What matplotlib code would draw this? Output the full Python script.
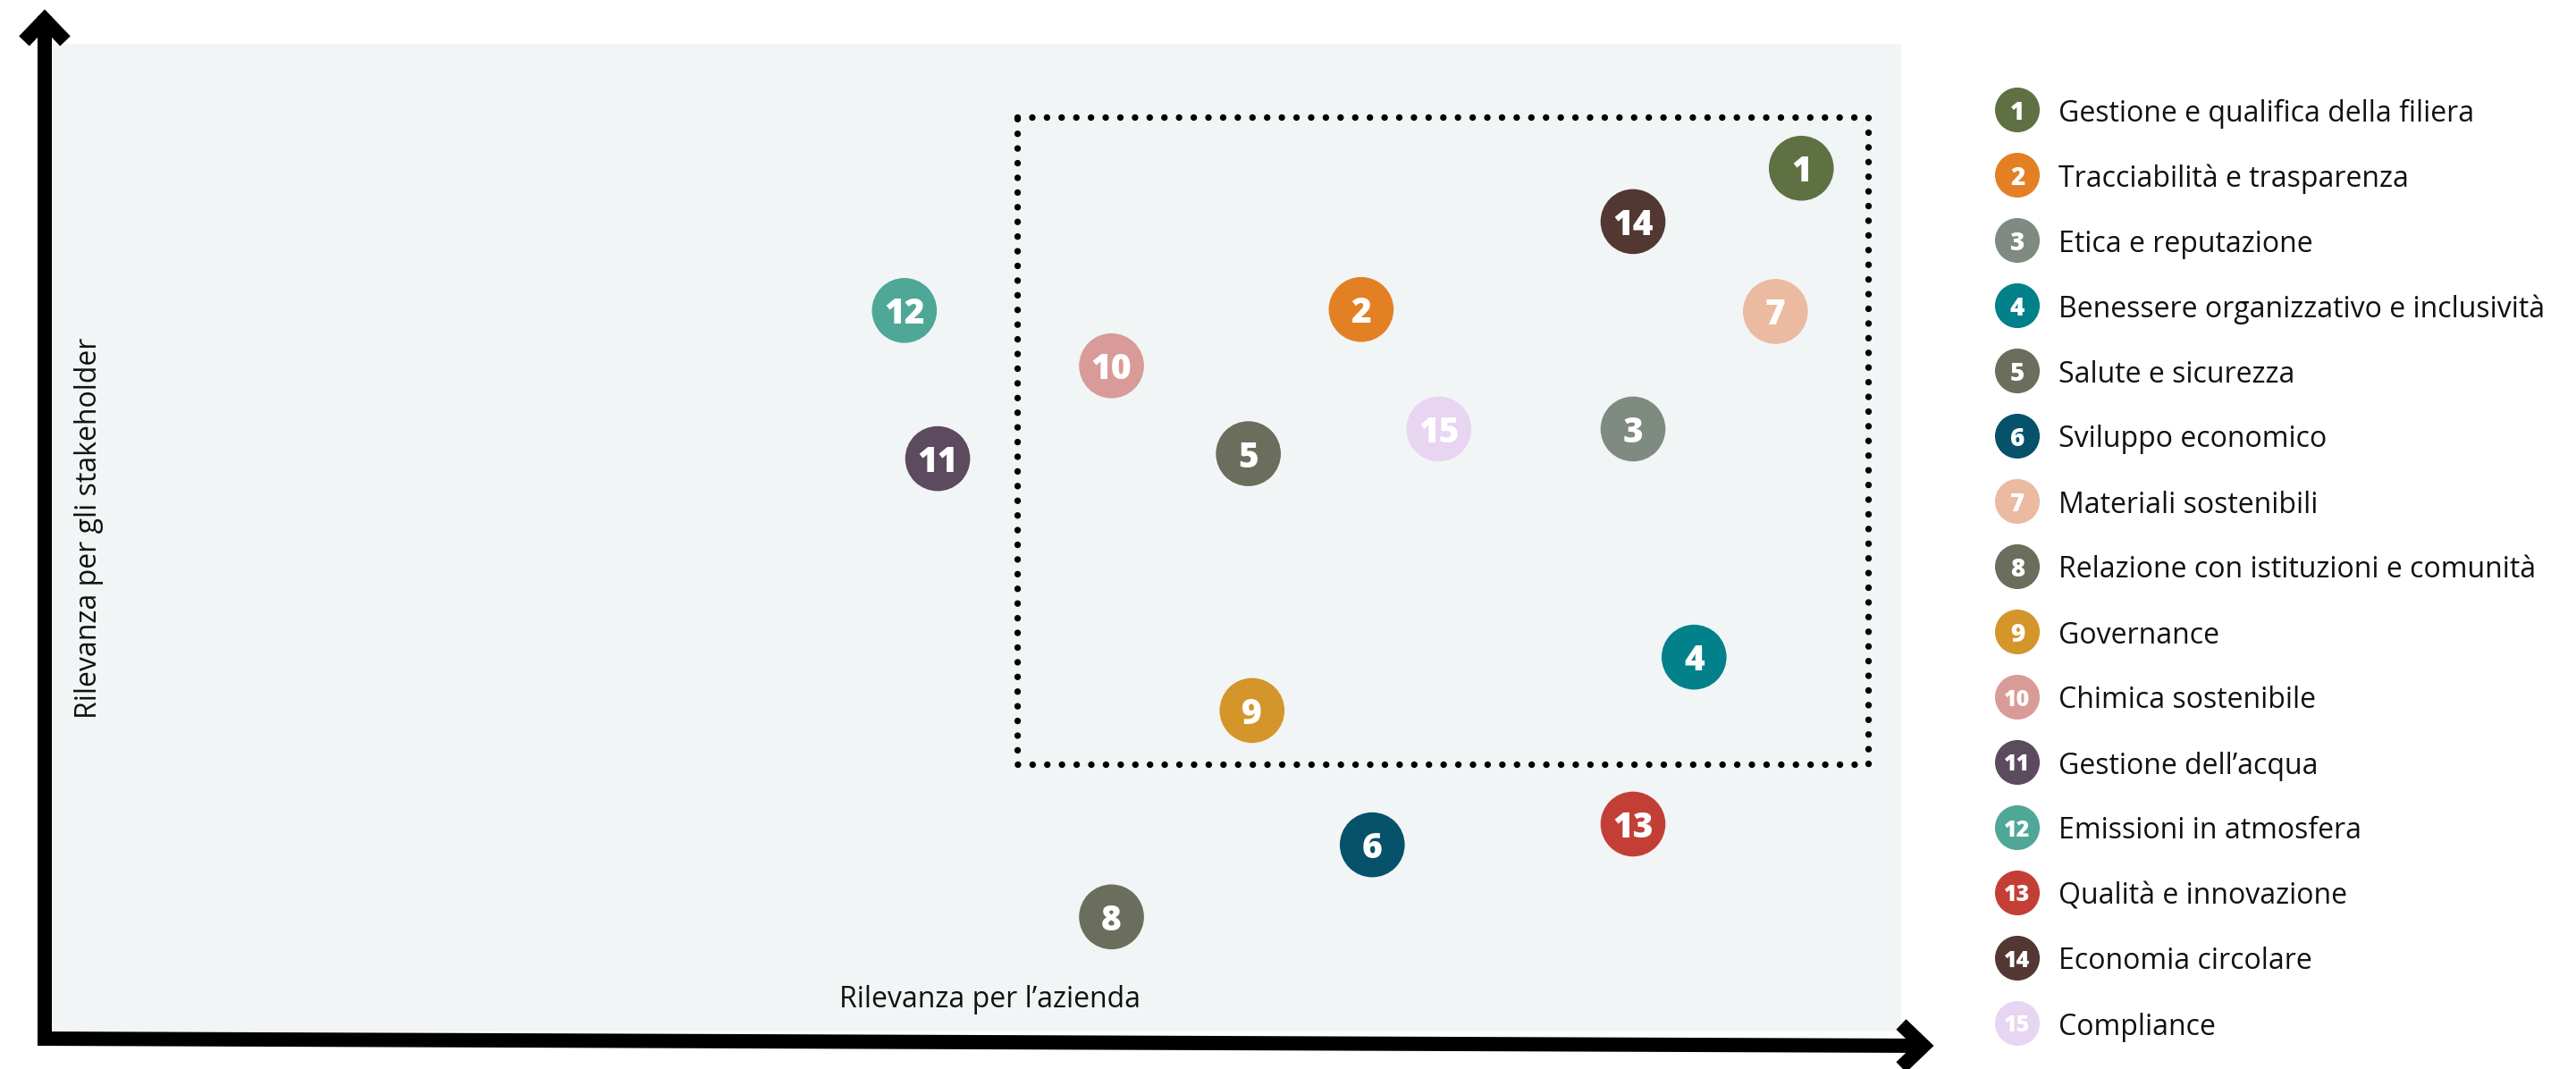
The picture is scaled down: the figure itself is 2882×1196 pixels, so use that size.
import matplotlib
matplotlib.use("Agg")
import matplotlib.pyplot as plt

plt.rcParams['font.family'] = ['Open Sans', 'DejaVu Sans']

# ---------------- data ----------------
ids = [str(i) for i in range(1, 16)]
labels = [
    "Gestione e qualifica della filiera",
    "Tracciabilità e trasparenza",
    "Etica e reputazione",
    "Benessere organizzativo e inclusività",
    "Salute e sicurezza",
    "Sviluppo economico",
    "Materiali sostenibili",
    "Relazione con istituzioni e comunità",
    "Governance",
    "Chimica sostenibile",
    "Gestione dell\u2019acqua",
    "Emissioni in atmosfera",
    "Qualità e innovazione",
    "Economia circolare",
    "Compliance",
]
# Rilevanza per l'azienda (x) / Rilevanza per gli stakeholder (y), scale 0-100
rel_azienda = [94.6, 70.8, 85.5, 88.8, 64.7, 71.4, 93.2, 57.3, 64.9, 57.3, 47.9, 46.1, 85.5, 85.5, 75.0]
rel_stakeholder = [87.4, 73.1, 61.0, 37.9, 58.5, 18.9, 72.9, 11.6, 32.5, 67.4, 58.0, 73.0, 21.0, 82.0, 61.0]
colors = ["#5F7143", "#E48024", "#7F8A80", "#02818A", "#6B6E5C", "#05526A", "#ECB9A1",
          "#6B6E5C", "#D4962A", "#D99B97", "#5C4A5E", "#4FA798", "#C33F35", "#523733", "#E7D5F2"]
# materiality threshold box (x0, x1, y0, y1)
box_x = [52.2, 98.2]
box_y = [27.1, 92.6]
xlabel = "Rilevanza per l\u2019azienda"
ylabel = "Rilevanza per gli stakeholder"

W, H = 2882, 1196
DPI = 100
fig = plt.figure(figsize=(W / DPI, H / DPI), dpi=DPI)
fig.patch.set_facecolor("white")

def px2fig(x0, y0, x1, y1):
    return [x0 / W, 1 - y1 / H, (x1 - x0) / W, (y1 - y0) / H]

# ---------------- main panel ----------------
ax = fig.add_axes(px2fig(58, 49, 2127, 1154))
ax.set_facecolor("#F1F5F6")
ax.set_xlim(0, 100)
ax.set_ylim(0, 100)
for s in ax.spines.values():
    s.set_visible(False)
ax.set_xticks([])
ax.set_yticks([])

# dotted box
bx = [box_x[0], box_x[1], box_x[1], box_x[0], box_x[0]]
by = [box_y[1], box_y[1], box_y[0], box_y[0], box_y[1]]
ax.plot(bx, by, color="black", lw=5.3, linestyle=(0, (0.001, 2.23)),
        dash_capstyle="round", solid_joinstyle="round", zorder=2)

ax.scatter(rel_azienda, rel_stakeholder, s=2735, c=colors, linewidths=0, zorder=3)
for x, y, t in zip(rel_azienda, rel_stakeholder, ids):
    ax.text(x, y, t, color="white", fontsize=28, fontweight="heavy",
            ha="center", va="center_baseline", zorder=4)

ax.text(42.6, 3.2, xlabel, fontsize=23, ha="left", va="center", color="#111111")
ax.text(2.0, 51.0, ylabel, fontsize=23, ha="center", va="center",
        rotation=90, color="#111111")

# ---------------- axis arrows (overlay, pixel coords) ----------------
ov = fig.add_axes([0, 0, 1, 1], facecolor="none")
ov.set_xlim(0, W)
ov.set_ylim(H, 0)
ov.axis("off")
lw = 16 * 72 / DPI
ov.plot([50, 50], [1170, 18], color="black", lw=lw, solid_capstyle="butt")
ov.plot([27, 50, 73], [46, 22, 46], color="black", lw=lw,
        solid_joinstyle="miter", solid_capstyle="butt")
ov.plot([42, 2155], [1162, 1170], color="black", lw=lw, solid_capstyle="butt")
ov.plot([2127, 2152, 2127], [1146, 1170, 1194], color="black", lw=lw,
        solid_joinstyle="miter", solid_capstyle="butt")

# ---------------- legend ----------------
lg = fig.add_axes([2200 / W, 0, (W - 2200) / W, 1], facecolor="none")
lg.set_xlim(0, 1)
lg.set_ylim((H - 123) / 73, -123 / 73)
lg.axis("off")
rows = list(range(len(ids)))
lg.scatter([0.0836] * len(rows), rows, s=1300, c=colors, linewidths=0)
for r, t, lab in zip(rows, ids, labels):
    lg.text(0.0836, r, t, color="white", fontsize=20 if len(t) == 1 else 18,
            fontweight="heavy", ha="center", va="center_baseline")
    lg.text(0.151, r, lab, fontsize=23, ha="left", va="center_baseline", color="#111111")

fig.savefig("out.png", dpi=DPI, facecolor="white")
